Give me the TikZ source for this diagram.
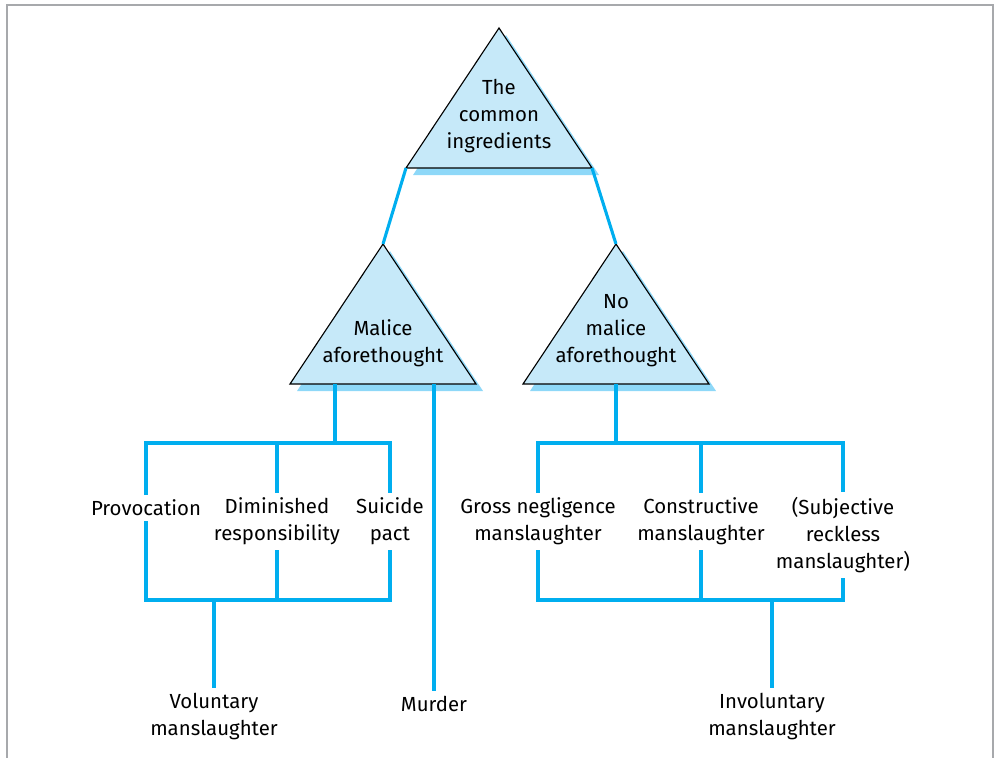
\documentclass[tikz,border=0pt]{standalone}
\usepackage{fontspec}
\setmainfont{Fira Sans}
\definecolor{triblue}{HTML}{C6E9F9}
\definecolor{shadeblue}{HTML}{8ED8F8}
\definecolor{linkblue}{HTML}{00AEEF}
\definecolor{framegrey}{HTML}{A7A9AC}
\tikzset{
  tri/.style={fill=triblue,draw=black,line width=0.8pt,line join=miter},
  trishade/.style={fill=shadeblue},
  link/.style={draw=linkblue,line width=2.2pt},
  lbl/.style={align=center,inner sep=3.5pt,font=\fontsize{14.5}{19.2}\selectfont},
  frameline/.style={draw=framegrey,line width=1.4pt}
}
\begin{document}
\begin{tikzpicture}[x=0.025cm,y=-0.025cm]
\def\tw{93};
\def\th{140};
\def\sh{7};
\useasboundingbox (0,0) rectangle (996,758);
\draw[frameline] (7,758) -- (7,5) -- (993,5) -- (993,758);
%triangles
\foreach\n/\x/\y in {top/499/28,malice/383/244,nomalice/616/244} {
  \fill[trishade] (\x+\sh,\y+\sh) -- (\x+\tw+\sh,\y+\th+\sh) -- (\x-\tw+\sh,\y+\th+\sh) -- cycle;
  \draw[tri] (\x,\y) coordinate (\n-apex) -- (\x+\tw,\y+\th) coordinate (\n-right)
    -- (\x-\tw,\y+\th) coordinate (\n-left) -- cycle;
  \coordinate (\n-base) at (\x,\y+\th);
}
\coordinate (malice-drop) at (335,384);
\node[lbl] (common) at (499,116) {The\\common\\ingredients};
\node[lbl] (malice) at (383,343.5) {Malice\\aforethought};
\node[lbl] (nomalice) at (616,331) {No\\malice\\aforethought};
\draw[link] (top-left) -- (malice-apex);
\draw[link] (top-right) -- (nomalice-apex);
%rows
\coordinate (hi) at (0,443);
\coordinate (lo) at (0,600);
\node[lbl] (prov) at (146,508) {Provocation};
\node[lbl] (dim) at (277,521.5) {Diminished\\responsibility};
\node[lbl] (pact) at (390,521.5) {Suicide\\pact};
\node[lbl] (gross) at (538,521.5) {Gross negligence\\manslaughter};
\node[lbl] (constr) at (701,521.5) {Constructive\\manslaughter};
\node[lbl] (subj) at (843,535) {(Subjective\\reckless\\manslaughter)};
\node[lbl] (vol) at (214,717) {Voluntary\\manslaughter};
\node[lbl] (murder) at (434,704) {Murder};
\node[lbl] (invol) at (772,717) {Involuntary\\manslaughter};
%malice side
\draw[link] (malice-drop) -- (malice-drop |- hi);
\draw[link] (prov.north) -- (prov.north |- hi) -| (pact.north);
\draw[link] (dim.north) -- (dim.north |- hi);
\draw[link] (prov.south) -- (prov.south |- lo) -| (pact.south);
\draw[link] (dim.south) -- (dim.south |- lo);
\draw[link] (vol.north |- lo) -- (vol.north);
\draw[link] (murder.north |- malice-base) -- (murder.north);
%no malice side
\draw[link] (nomalice-base) -- (nomalice-base |- hi);
\draw[link] (gross.north) -- (gross.north |- hi) -| (subj.north);
\draw[link] (constr.north) -- (constr.north |- hi);
\draw[link] (gross.south) -- (gross.south |- lo) -| (subj.south);
\draw[link] (constr.south) -- (constr.south |- lo);
\draw[link] (invol.north |- lo) -- (invol.north);
\end{tikzpicture}
\end{document}
